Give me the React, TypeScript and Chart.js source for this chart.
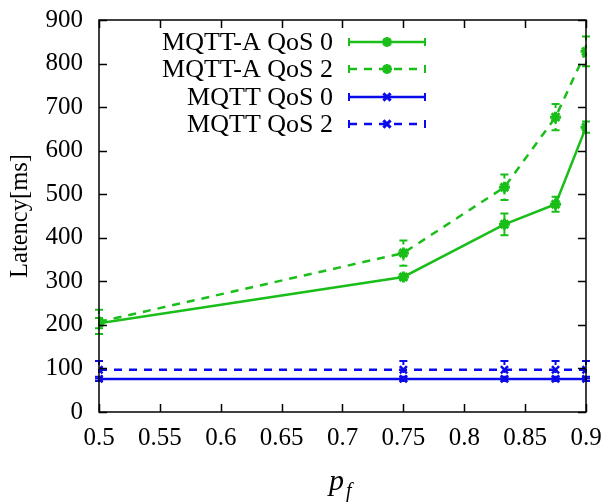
import React, { useEffect, useRef } from "react";
import { Chart, registerables } from "chart.js";

Chart.register(...registerables);

const pf = [0.5, 0.75, 0.833, 0.875, 0.9];
const mqttA0 = [204, 310, 431, 477, 654];
const mqttA0Err = [12, 6, 25, 17, 13];
const mqttA2 = [207, 365, 516, 677, 828];
const mqttA2Err = [28, 29, 29, 30, 34];
const mqtt0 = [76, 76, 76, 76, 76];
const mqtt0Err = [5, 5, 5, 5, 5];
const mqtt2 = [97, 97, 97, 97, 97];
const mqtt2Err = [20, 20, 20, 20, 20];

const seriesNames = ["MQTT-A QoS 0", "MQTT-A QoS 2", "MQTT QoS 0", "MQTT QoS 2"];
const xTicks = [0.5, 0.55, 0.6, 0.65, 0.7, 0.75, 0.8, 0.85, 0.9];
const yTicks = [0, 100, 200, 300, 400, 500, 600, 700, 800, 900];

const GREEN = "rgb(25,190,25)";
const BLUE = "rgb(10,10,235)";
const SERIF = "'Liberation Serif', 'Times New Roman', serif";

const errs = [mqttA0Err, mqttA2Err, mqtt0Err, mqtt2Err];

function drawMarker(ctx: CanvasRenderingContext2D, style: string, x: number, y: number, r: number, color: string) {
  ctx.save();
  ctx.strokeStyle = color;
  ctx.lineWidth = 3;
  ctx.setLineDash([]);
  ctx.beginPath();
  if (style === "star") {
    ctx.moveTo(x - r, y); ctx.lineTo(x + r, y);
    ctx.moveTo(x, y - r); ctx.lineTo(x, y + r);
    const d = r * 0.707;
    ctx.moveTo(x - d, y - d); ctx.lineTo(x + d, y + d);
    ctx.moveTo(x - d, y + d); ctx.lineTo(x + d, y - d);
  } else {
    const d = r * 0.8;
    ctx.moveTo(x - d, y - d); ctx.lineTo(x + d, y + d);
    ctx.moveTo(x - d, y + d); ctx.lineTo(x + d, y - d);
  }
  ctx.stroke();
  ctx.restore();
}

const gnuplotPlugin = {
  id: "gnuplotPlugin",
  afterDatasetsDraw(chart: any) {
    const ctx: CanvasRenderingContext2D = chart.ctx;
    const xs = chart.scales.x;
    const ys = chart.scales.y;
    chart.data.datasets.forEach((ds: any, i: number) => {
      const e = errs[i];
      const dashed = ds.borderDash && ds.borderDash.length;
      ctx.save();
      ctx.strokeStyle = ds.borderColor;
      ctx.lineWidth = 2;
      ds.data.forEach((p: any, j: number) => {
        const px = xs.getPixelForValue(p.x);
        const top = ys.getPixelForValue(p.y + e[j]);
        const bot = ys.getPixelForValue(p.y - e[j]);
        ctx.setLineDash(dashed ? [4, 4] : []);
        ctx.beginPath();
        ctx.moveTo(px, top); ctx.lineTo(px, bot);
        ctx.stroke();
        ctx.setLineDash([]);
        ctx.beginPath();
        ctx.moveTo(px - 4, top); ctx.lineTo(px + 4, top);
        ctx.moveTo(px - 4, bot); ctx.lineTo(px + 4, bot);
        ctx.stroke();
      });
      ctx.restore();
    });
  },
  afterDraw(chart: any) {
    const ctx: CanvasRenderingContext2D = chart.ctx;
    const a = chart.chartArea;
    const xs = chart.scales.x;
    const ys = chart.scales.y;
    ctx.save();
    ctx.strokeStyle = "#000";
    ctx.lineWidth = 1.5;
    ctx.setLineDash([]);
    ctx.strokeRect(a.left, a.top, a.right - a.left, a.bottom - a.top);
    const tl = 8;
    ctx.beginPath();
    xTicks.forEach((v) => {
      const px = Math.round(xs.getPixelForValue(v)) + 0.5;
      ctx.moveTo(px, a.bottom); ctx.lineTo(px, a.bottom - tl);
      ctx.moveTo(px, a.top); ctx.lineTo(px, a.top + tl);
    });
    yTicks.forEach((v) => {
      const py = Math.round(ys.getPixelForValue(v)) + 0.5;
      ctx.moveTo(a.left, py); ctx.lineTo(a.left + tl, py);
      ctx.moveTo(a.right, py); ctx.lineTo(a.right - tl, py);
    });
    ctx.stroke();

    // y title
    ctx.fillStyle = "#000";
    ctx.font = `24.5px ${SERIF}`;
    ctx.textAlign = "center";
    ctx.textBaseline = "middle";
    ctx.save();
    ctx.translate(21, 216);
    ctx.rotate(-Math.PI / 2);
    ctx.fillText("Latency[ms]", 0, 0);
    ctx.restore();

    // x title p_f
    ctx.textAlign = "left";
    ctx.textBaseline = "alphabetic";
    ctx.font = `italic 30px ${SERIF}`;
    ctx.fillText("p", 329, 490);
    ctx.font = `italic 20px ${SERIF}`;
    ctx.fillText("f", 346, 497);

    // legend
    const rows = [42, 69, 97, 124];
    chart.data.datasets.forEach((ds: any, i: number) => {
      const y = rows[i];
      ctx.fillStyle = "#000";
      ctx.font = `26px ${SERIF}`;
      ctx.textAlign = "right";
      ctx.textBaseline = "middle";
      ctx.fillText(seriesNames[i], 333, y + 1);
      ctx.strokeStyle = ds.borderColor;
      ctx.lineWidth = 2.5;
      ctx.setLineDash(ds.borderDash || []);
      ctx.beginPath();
      ctx.moveTo(349, y); ctx.lineTo(425, y);
      ctx.stroke();
      ctx.setLineDash([]);
      ctx.lineWidth = 2;
      ctx.beginPath();
      ctx.moveTo(349, y - 4); ctx.lineTo(349, y + 4);
      ctx.moveTo(425, y - 4); ctx.lineTo(425, y + 4);
      ctx.stroke();
      drawMarker(ctx, ds.pointStyle, 387, y, ds.pointStyle === "star" ? 5 : 4.5, ds.borderColor);
    });
    ctx.restore();
  },
};

function toPts(ys: number[]) {
  return pf.map((x, i) => ({ x, y: ys[i] }));
}

export default function App() {
  const ref = useRef<HTMLCanvasElement>(null);
  useEffect(() => {
    document.body.style.margin = "0";
    const chart = new Chart(ref.current!, {
      type: "line",
      data: {
        datasets: [
          { label: seriesNames[0], data: toPts(mqttA0), borderColor: GREEN, backgroundColor: GREEN, borderWidth: 2.5, pointStyle: "star", pointRadius: 5.5, pointBorderWidth: 3, borderDash: [] },
          { label: seriesNames[1], data: toPts(mqttA2), borderColor: GREEN, backgroundColor: GREEN, borderWidth: 2.5, pointStyle: "star", pointRadius: 5.5, pointBorderWidth: 3, borderDash: [8, 7] },
          { label: seriesNames[2], data: toPts(mqtt0), borderColor: BLUE, backgroundColor: BLUE, borderWidth: 2.5, pointStyle: "crossRot", pointRadius: 5, pointBorderWidth: 2.5, borderDash: [] },
          { label: seriesNames[3], data: toPts(mqtt2), borderColor: BLUE, backgroundColor: BLUE, borderWidth: 2.5, pointStyle: "crossRot", pointRadius: 5, pointBorderWidth: 2.5, borderDash: [8, 7] },
        ] as any,
      },
      options: {
        animation: false,
        responsive: true,
        maintainAspectRatio: false,
        layout: { padding: { top: 20, right: 19, left: 0, bottom: 0 } },
        plugins: { legend: { display: false }, tooltip: { enabled: false } },
        elements: { line: { tension: 0 } },
        scales: {
          x: {
            type: "linear",
            min: 0.5,
            max: 0.9,
            afterBuildTicks: (s: any) => { s.ticks = xTicks.map((v) => ({ value: v })); },
            afterFit: (s: any) => { s.height = 91; s.paddingLeft = 0; s.paddingRight = 0; },
            grid: { display: false, drawTicks: false },
            border: { display: false },
            ticks: {
              padding: 11,
              color: "#000",
              font: { family: SERIF, size: 25 },
              maxRotation: 0,
              autoSkip: false,
              callback: (v: any) => String(Number(Number(v).toFixed(2))),
            },
          },
          y: {
            type: "linear",
            min: 0,
            max: 900,
            afterBuildTicks: (s: any) => { s.ticks = yTicks.map((v) => ({ value: v })); },
            afterFit: (s: any) => { s.width = 99; s.paddingTop = 0; s.paddingBottom = 0; },
            grid: { display: false, drawTicks: false },
            border: { display: false },
            ticks: {
              padding: 16,
              color: "#000",
              font: { family: SERIF, size: 25 },
              autoSkip: false,
            },
          },
        },
      } as any,
      plugins: [gnuplotPlugin],
    });
    return () => chart.destroy();
  }, []);
  return (
    <div style={{ position: "absolute", left: 0, top: 0, width: 605, height: 503 }}>
      <canvas ref={ref} />
    </div>
  );
}
